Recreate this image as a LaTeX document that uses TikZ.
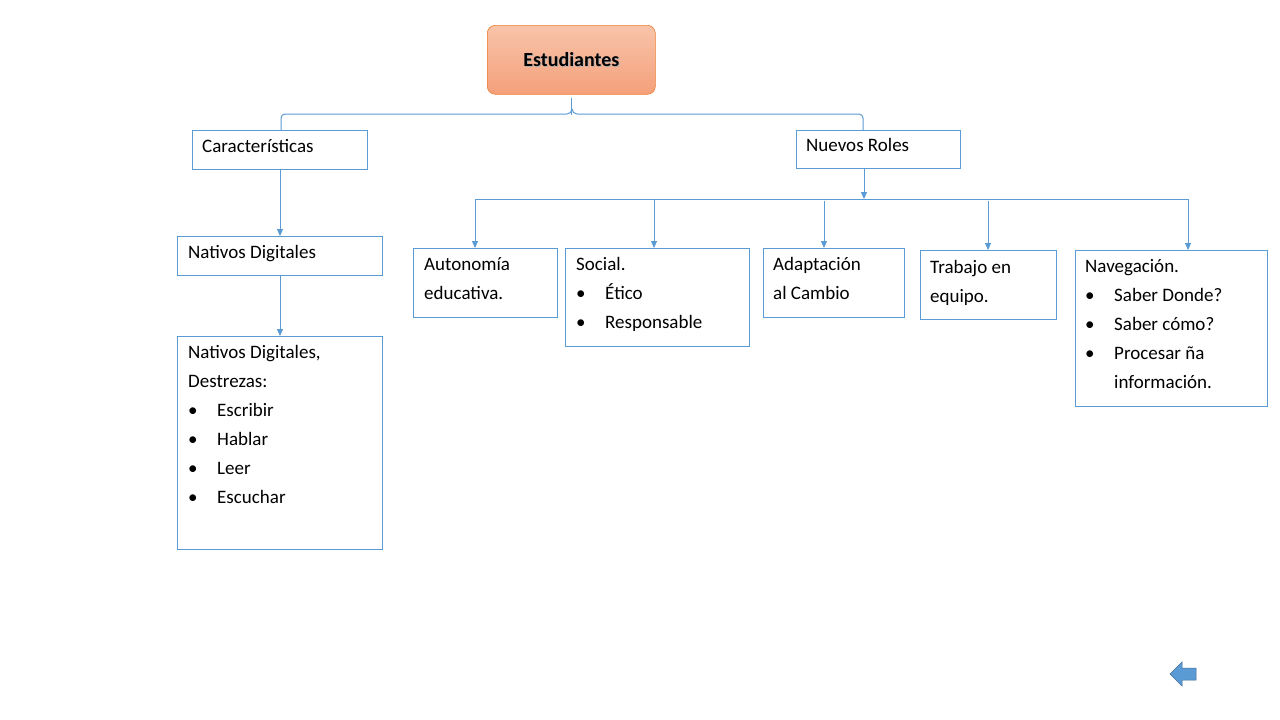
\documentclass[tikz,border=0pt]{standalone}
\usepackage{fontspec}
\setmainfont{Carlito}
\usetikzlibrary{arrows.meta,shadows}
\definecolor{lb}{RGB}{91,155,213}
\definecolor{og1}{RGB}{248,196,170}
\definecolor{og2}{RGB}{244,160,122}
\definecolor{ogb}{RGB}{237,125,49}
\tikzset{
  bx/.style={draw=lb,line width=0.9pt,anchor=north west,inner sep=0pt},
  tx/.style={anchor=north west,inner sep=0pt,align=left,font=\fontsize{19}{29}\selectfont},
  ln/.style={draw=lb,line width=1pt},
  ar/.style={ln,-{Triangle[length=7pt,width=6pt]}}
}
\newcommand{\bul}{\makebox[29pt][l]{•}}
\begin{document}
\begin{tikzpicture}[x=1pt,y=-1pt]
\useasboundingbox (0,0) rectangle (1280,720);
\fill[white] (0,0) rectangle (1280,720);
% top node
\node[anchor=north west,draw=ogb,line width=0.6pt,rounded corners=8pt,top color=og1,bottom color=og2,minimum width=168pt,minimum height=69pt,inner sep=0pt] (est) at (487,25) {};
\node[font=\fontsize{20}{24}\selectfont\bfseries,text=black!30,] at ([xshift=1pt,yshift=-1pt]est.center) {Estudiantes};
\node[font=\fontsize{20}{24}\selectfont\bfseries] (estt) at (est.center) {Estudiantes};
% boxes
\node[bx,minimum width=175pt,minimum height=39pt] (car) at (192,130) {};
\node[tx] at (202,139) {Características};
\node[bx,minimum width=164pt,minimum height=38pt] (nr) at (796,130) {};
\node[tx] at (806,138) {Nuevos Roles};
\node[bx,minimum width=205pt,minimum height=39pt] (nd) at (177,236) {};
\node[tx] at (188,245) {Nativos Digitales};
\node[bx,minimum width=205pt,minimum height=213pt] (nds) at (177,336) {};
\node[tx] at (188,345) {Nativos Digitales,\\Destrezas:\\\bul Escribir\\\bul Hablar\\\bul Leer\\\bul Escuchar};
\node[bx,minimum width=144pt,minimum height=69pt] (aut) at (413,248) {};
\node[tx] at (424,257) {Autonomía\\educativa.};
\node[bx,minimum width=184pt,minimum height=98pt] (soc) at (565,248) {};
\node[tx] at (576,257) {Social.\\\bul Ético\\\bul Responsable};
\node[bx,minimum width=141pt,minimum height=69pt] (ada) at (763,248) {};
\node[tx] at (773,257) {Adaptación\\al Cambio};
\node[bx,minimum width=136pt,minimum height=69pt] (tra) at (920,250) {};
\node[tx] at (930,260) {Trabajo en\\equipo.};
\node[bx,minimum width=192pt,minimum height=156pt] (nav) at (1075,250) {};
\node[tx] at (1085,259) {Navegación.\\\bul Saber Donde?\\\bul Saber cómo?\\\bul Procesar ña\\\hspace*{29pt}información.};
% brace
\draw[ln] (est.south) ++(0,3) -- ++(0,17) coordinate (bm);
\draw[ln] (281,130) -- (281,118) to[out=90,in=180] (285,114) -- (567,114) to[out=0,in=-90] (572,109);
\draw[ln] (863,130) -- (863,118) to[out=90,in=0] (859,114) -- (577,114) to[out=180,in=-90] (572,109);
% arrows
\draw[ar] (car.south -| 280,0) -- (nd.north -| 280,0);
\draw[ar] (nd.south -| 280,0) -- (nds.north -| 280,0);
\draw[ar] (nr.south -| 864,0) -- (864,199);
\draw[ln] (475,199) coordinate (h1) -- (1188,199) coordinate (h2);
\draw[ar] (h1) -- (aut.north -| h1);
\draw[ar] (654,199) -- (soc.north -| 654,0);
\draw[ar] (824,201) -- (ada.north -| 824,0);
\draw[ar] (988,201) -- (tra.north -| 988,0);
\draw[ar] (h2) -- (nav.north -| h2);
% back icon
\fill[lb,draw=lb!70!black,line width=0.5pt] (1170,674) -- (1182,662) -- (1182,668) -- (1196,668) -- (1196,680) -- (1182,680) -- (1182,686) -- cycle;
\end{tikzpicture}
\end{document}
